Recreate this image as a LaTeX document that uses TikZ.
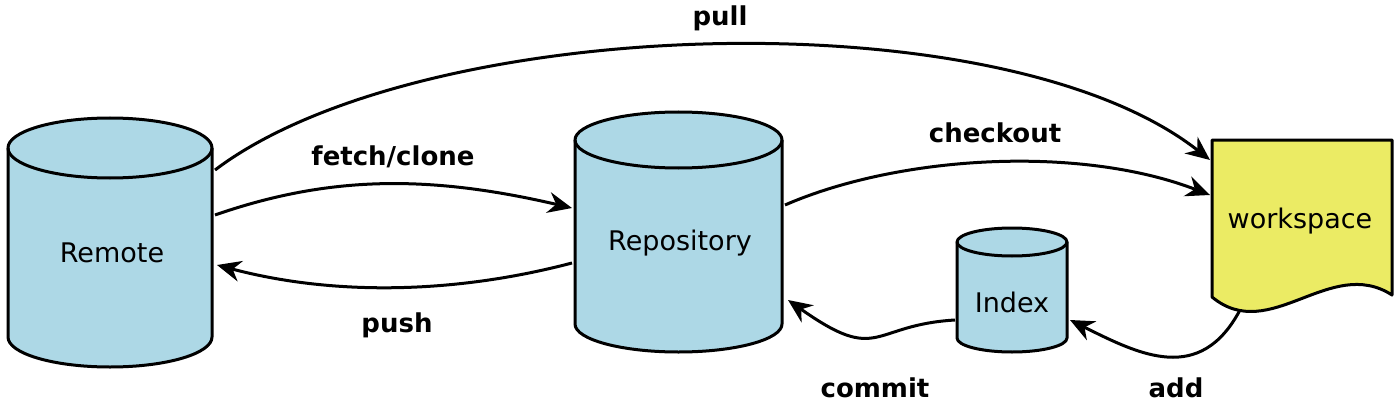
\documentclass[tikz,border=0pt]{standalone}
\usepackage{fontspec}
\setmainfont{DejaVu Sans}
\usetikzlibrary{arrows.meta}
\definecolor{cylblue}{RGB}{173,216,230}
\definecolor{wsyellow}{RGB}{235,235,100}
\begin{document}
\begin{tikzpicture}[x=1pt,y=1pt,
  shp/.style={line width=3pt,draw=black,line join=round},
  lbl/.style={font=\fontsize{27}{31}\selectfont},
  elbl/.style={font=\fontsize{26}{30}\selectfont\bfseries},
  conn/.style={line width=3pt,-{Stealth[length=24pt,width=21pt]}}]
\useasboundingbox (0,0) rectangle (1396,405);
% Remote
\filldraw[shp,fill=cylblue] (8,257) -- (8,68) arc (180:360:102pt and 30pt) -- (212,257) arc (0:180:102pt and 30pt) -- cycle;
\draw[shp] (8,257) arc (180:360:102pt and 30pt);
% Repository
\filldraw[shp,fill=cylblue] (575,265) -- (575,81) arc (180:360:103.5pt and 28pt) -- (782,265) arc (0:180:103.5pt and 28pt) -- cycle;
\draw[shp] (575,265) arc (180:360:103.5pt and 28pt);
% Index
\filldraw[shp,fill=cylblue] (957,163) -- (957,67) arc (180:360:55pt and 14pt) -- (1067,163) arc (0:180:55pt and 14pt) -- cycle;
\draw[shp] (957,163) arc (180:360:55pt and 14pt);
% workspace
\filldraw[shp,fill=wsyellow] (1212,265) -- (1392,265) -- (1392,110) .. controls (1330,150) and (1270,60) .. (1212,108) -- cycle;
\node[lbl] (remote) at (112,152) {Remote};
\node[lbl] (repo) at (680,162) {Repository};
\node[lbl] (index) at (1012,103) {Index};
\node[lbl] (ws) at (1300,184) {workspace};
% connector endpoints
\coordinate (pullA) at (215,235); \coordinate (pullB) at (1210,245);
\coordinate (fetA) at (215,190); \coordinate (fetB) at (572,197);
\coordinate (pushA) at (572,142); \coordinate (pushB) at (217,140);
\coordinate (coA) at (785,200); \coordinate (coB) at (1210,210);
\coordinate (cmA) at (955,85); \coordinate (cmB) at (788,105);
\coordinate (addA) at (1240,95); \coordinate (addB) at (1070,85);
\draw[conn] (pullA) .. controls (420,390) and (1000,410) .. (pullB);
\draw[conn] (fetA) .. controls (330,230) and (430,230) .. (fetB);
\draw[conn] (pushA) .. controls (450,110) and (330,110) .. (pushB);
\draw[conn] (coA) .. controls (900,250) and (1080,260) .. (coB);
\draw[conn] (cmA) .. controls (870,80) and (880,40) .. (cmB);
\draw[conn] (addA) .. controls (1200,20) and (1140,50) .. (addB);
\node[elbl] (lpull) at (720,387) {pull};
\node[elbl] (lfetch) at (393,248) {fetch/clone};
\node[elbl] (lpush) at (397,80) {push};
\node[elbl] (lco) at (995,272) {checkout};
\node[elbl] (lcm) at (875,17) {commit};
\node[elbl] (ladd) at (1176,17) {add};
\end{tikzpicture}
\end{document}
